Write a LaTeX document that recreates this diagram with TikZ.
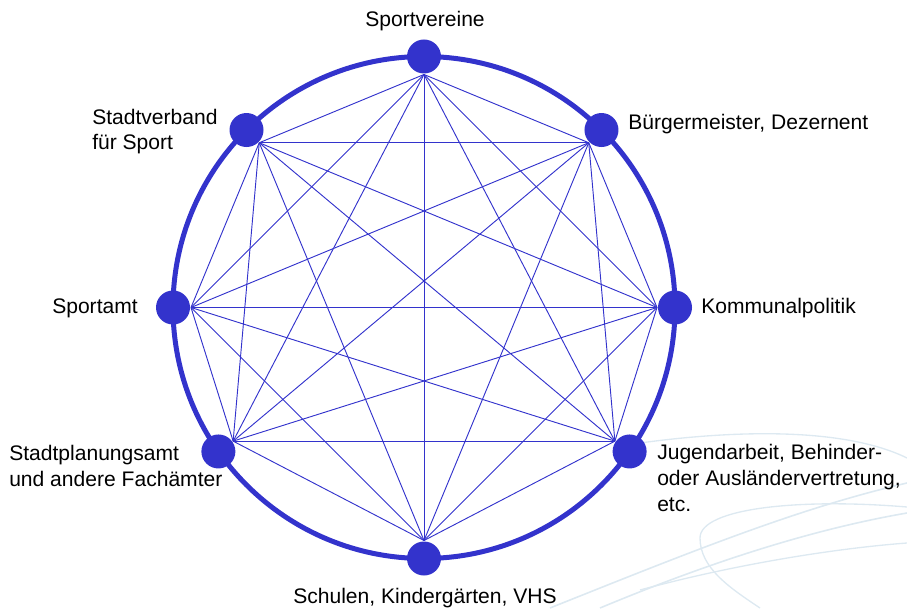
\documentclass[tikz,border=0pt]{standalone}
\usepackage{fontspec}
\setmainfont{Liberation Sans}
\definecolor{netblue}{HTML}{3333CC}
\definecolor{swoosh}{HTML}{DDE9F1}
\begin{document}
\begin{tikzpicture}[x=0.75pt,y=0.75pt,
	dot/.style={circle,fill=netblue,inner sep=0,minimum size=25.5pt},
	link/.style={netblue,line width=0.7pt},
	lbl/.style={inner sep=0,font=\fontsize{15.8}{19.2}\selectfont,align=left}]
	\useasboundingbox (0,0) rectangle (907,608);
	% faint background swooshes
	\draw[swoosh,line width=1.2pt] (550,0) .. controls (700,60) and (800,100) .. (907,125);
	\draw[swoosh,line width=1.2pt] (600,0) .. controls (720,50) and (820,80) .. (907,95);
	\draw[swoosh,line width=1pt] (640,18) .. controls (740,45) and (840,60) .. (907,65);
	\draw[swoosh,line width=1pt] (907,101) .. controls (800,110) and (700,100) .. (700,70) .. controls (700,40) and (730,20) .. (760,0);
	\draw[swoosh,line width=1pt] (640,165) .. controls (750,180) and (850,178) .. (907,150);
	\begin{scope}[shift={(424,300.5)}]
		\draw[netblue,line width=3.75pt] (0,0) circle[radius=251];
		\foreach \n/\ang in {sv/90,bm/45,kp/0,ja/-35,sk/-90,sp/-145,sa/180,sf/135}
			\coordinate (\n-in) at (\ang:233);
		\foreach \a [count=\i] in {sv,bm,kp,ja,sk,sp,sa,sf}
			\foreach \b [count=\j] in {sv,bm,kp,ja,sk,sp,sa,sf}
				{\ifnum\j>\i \draw[link] (\a-in) -- (\b-in); \fi}
		\foreach \n/\ang in {sv/90,bm/45,kp/0,ja/-35,sk/-90,sp/-145,sa/180,sf/135}
			\node[dot] (\n) at (\ang:251) {};
	\end{scope}
	% labels (multi-line ones sit on their last baseline)
	\node[lbl,anchor=base] (sv-l) at (425,581) {Sportvereine};
	\node[lbl,anchor=base west] (bm-l) at (628,478) {Bürgermeister, Dezernent};
	\node[lbl,anchor=base west] (kp-l) at (701,295) {Kommunalpolitik};
	\node[lbl,anchor=base west] (ja-l) at (657,97) {Jugendarbeit, Behinder-\\oder Ausländervertretung,\\etc.};
	\node[lbl,anchor=base] (sk-l) at (425,5) {Schulen, Kindergärten, VHS};
	\node[lbl,anchor=base west] (sp-l) at (9,122) {Stadtplanungsamt\\und andere Fachämter};
	\node[lbl,anchor=base west] (sa-l) at (52,295) {Sportamt};
	\node[lbl,anchor=base west] (sf-l) at (92,458) {Stadtverband\\für Sport};
\end{tikzpicture}
\end{document}
